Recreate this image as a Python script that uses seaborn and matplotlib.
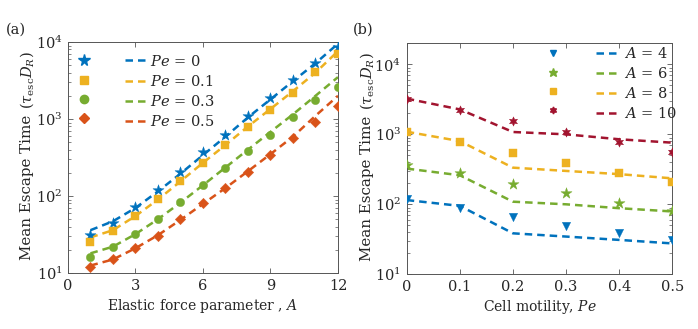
import numpy as np
import pandas as pd
import matplotlib
matplotlib.use("Agg")
import matplotlib.pyplot as plt
import seaborn as sns
from matplotlib.lines import Line2D
from matplotlib.ticker import LogLocator, NullFormatter

# ---------------- data: panel (a) ----------------
A_vals = [1, 2, 3, 4, 5, 6, 7, 8, 9, 10, 11, 12]
pe_labels = ["$Pe$ = 0", "$Pe$ = 0.1", "$Pe$ = 0.3", "$Pe$ = 0.5"]
mk_pe0 = [31, 45, 71, 120, 203, 369, 620, 1100, 1860, 3200, 5380, 8700]
mk_pe01 = [25, 35, 55, 91, 157, 270, 460, 780, 1310, 2160, 4110, 6920]
mk_pe03 = [16.3, 21.5, 32, 50, 84, 139, 233, 384, 620, 1072, 1766, 2580]
mk_pe05 = [11.9, 15.1, 21, 30.3, 50, 80, 126, 207, 340, 561, 906, 1490]
fit_pe0 = [36, 47, 70, 115, 195, 340, 590, 1050, 1800, 3100, 5300, 9500]
fit_pe01 = [29, 36, 55, 90, 155, 270, 460, 800, 1350, 2300, 4000, 7600]
fit_pe03 = [18, 22, 32, 50, 82, 138, 235, 400, 680, 1150, 2000, 3500]
fit_pe05 = [12.5, 15, 21, 31, 49, 79, 127, 210, 350, 590, 1100, 2000]

# ---------------- data: panel (b) ----------------
Pe_vals = [0, 0.1, 0.2, 0.3, 0.4, 0.5]
a_labels = ["$A$ = 4", "$A$ = 6", "$A$ = 8", "$A$ = 10"]
mk_a4 = [120, 90, 65, 49, 38.5, 30.6]
mk_a6 = [364, 277, 198, 144, 106, 80]
mk_a8 = [1090, 787, 548, 389, 284, 211]
mk_a10 = [3240, 2200, 1530, 1080, 787, 566]
fit_a4 = [115, 95, 38.5, 34.6, 31, 27.6]
fit_a6 = [324, 260, 109, 100, 88, 79]
fit_a8 = [1090, 800, 334, 300, 270, 235]
fit_a10 = [3240, 2270, 1080, 1000, 850, 760]

BLUE = "#0072BD"
ORANGE = "#D95319"
YELLOW = "#EDB120"
GREEN = "#77AC30"
DARKRED = "#A2142F"

sns.set_style("ticks")
plt.rcParams["font.family"] = ["DejaVu Serif"]
plt.rcParams["mathtext.fontset"] = "custom"
plt.rcParams["mathtext.rm"] = "DejaVu Serif"
plt.rcParams["mathtext.it"] = "DejaVu Serif:italic"
plt.rcParams["mathtext.bf"] = "DejaVu Serif:bold"
plt.rcParams["axes.edgecolor"] = "#555555"
plt.rcParams["axes.linewidth"] = 0.7
plt.rcParams["xtick.color"] = "#555555"
plt.rcParams["ytick.color"] = "#555555"
plt.rcParams["xtick.labelcolor"] = "#262626"
plt.rcParams["ytick.labelcolor"] = "#262626"

FS = 10

fig = plt.figure(figsize=(6.98, 3.29), dpi=100)
axa = fig.add_axes([0.0974, 0.1702, 0.3868, 0.7021])
axb = fig.add_axes([0.5827, 0.1663, 0.3805, 0.7021])

hexagram = (6, 1, 0)
DASH = (0, (3.0, 2.0))

def draw(ax, x, mks, fits, colors, markers, sizes, leg_scale):
    mk_handles, ln_handles = [], []
    for m, f, c, mk, s in zip(mks, fits, colors, markers, sizes):
        df = pd.DataFrame({"x": x, "m": m, "f": f})
        sns.lineplot(data=df, x="x", y="f", ax=ax, color=c, linestyle=DASH,
                     linewidth=1.8, zorder=2)
        sns.scatterplot(data=df, x="x", y="m", ax=ax, color=c, marker=mk, s=s,
                        edgecolor=c, linewidth=0.3, zorder=3)
        mk_handles.append(Line2D([], [], linestyle="none", marker=mk, color=c,
                                 markersize=np.sqrt(s) * leg_scale, markeredgecolor=c))
        ln_handles.append(Line2D([], [], linestyle=DASH, color=c, linewidth=1.8))
    return mk_handles, ln_handles

mh_a, lh_a = draw(axa, A_vals, [mk_pe0, mk_pe01, mk_pe03, mk_pe05],
                  [fit_pe0, fit_pe01, fit_pe03, fit_pe05],
                  [BLUE, YELLOW, GREEN, ORANGE], ["*", "s", "o", "D"], [70, 26, 36, 28], 1.0)
mh_b, lh_b = draw(axb, Pe_vals, [mk_a4, mk_a6, mk_a8, mk_a10],
                  [fit_a4, fit_a6, fit_a8, fit_a10],
                  [BLUE, GREEN, YELLOW, DARKRED], ["v", "*", "s", hexagram], [36, 70, 26, 45], 0.75)

for ax in (axa, axb):
    ax.set_yscale("log")
    ax.yaxis.set_minor_locator(LogLocator(base=10, subs=np.arange(2, 10)))
    ax.yaxis.set_minor_formatter(NullFormatter())
    ax.tick_params(which="both", direction="in", top=True, right=True, labelsize=FS + 0.5)
    ax.tick_params(which="major", length=3.5, width=0.6, pad=4)
    ax.tick_params(which="minor", length=2, width=0.5)
    ax.set_ylabel("")
    for s in ax.spines.values():
        s.set_visible(True)

axa.set_xlim(0, 12)
axa.set_ylim(10, 1e4)
axa.set_xticks([0, 3, 6, 9, 12])
axa.set_xlabel("Elastic force parameter , $A$", fontsize=FS, labelpad=3)

axb.set_xlim(0, 0.5)
axb.set_ylim(10, 2e4)
axb.set_xticks(Pe_vals)
axb.set_xticklabels(["0", "0.1", "0.2", "0.3", "0.4", "0.5"])
axb.set_xlabel("Cell motility, $Pe$", fontsize=FS, labelpad=3)

for ax, xoff in ((axa, -0.150), (axb, -0.150)):
    ax.text(xoff, 0.37, "Mean Escape Time", transform=ax.transAxes, rotation=90,
            ha="center", va="center", fontsize=FS + 0.8, color="#262626")
    ax.text(xoff, 0.835, r"$(\tau_{\rm esc}D_R)$", transform=ax.transAxes, rotation=90,
            ha="center", va="center", fontsize=10.5, color="#262626")

leg_a = axa.legend(mh_a + lh_a, [""] * 4 + pe_labels, ncol=2, loc="upper left",
                   bbox_to_anchor=(0.018, 0.95), frameon=False, fontsize=FS + 0.5,
                   handlelength=1.5, handletextpad=0.2, columnspacing=1.9,
                   labelspacing=0.35, borderpad=0, borderaxespad=0)
leg_b = axb.legend(mh_b + lh_b, [""] * 4 + a_labels, ncol=2, loc="upper left",
                   bbox_to_anchor=(0.505, 0.99), frameon=False, fontsize=FS + 0.5,
                   handlelength=1.7, handletextpad=0.2, columnspacing=1.9,
                   labelspacing=0.35, borderpad=0, borderaxespad=0)

fig.text(0.023, 0.909, "(a)", ha="center", va="center", fontsize=FS + 0.5, color="#262626")
fig.text(0.520, 0.909, "(b)", ha="center", va="center", fontsize=FS + 0.5, color="#262626")

fig.savefig("out.png", dpi=100)
